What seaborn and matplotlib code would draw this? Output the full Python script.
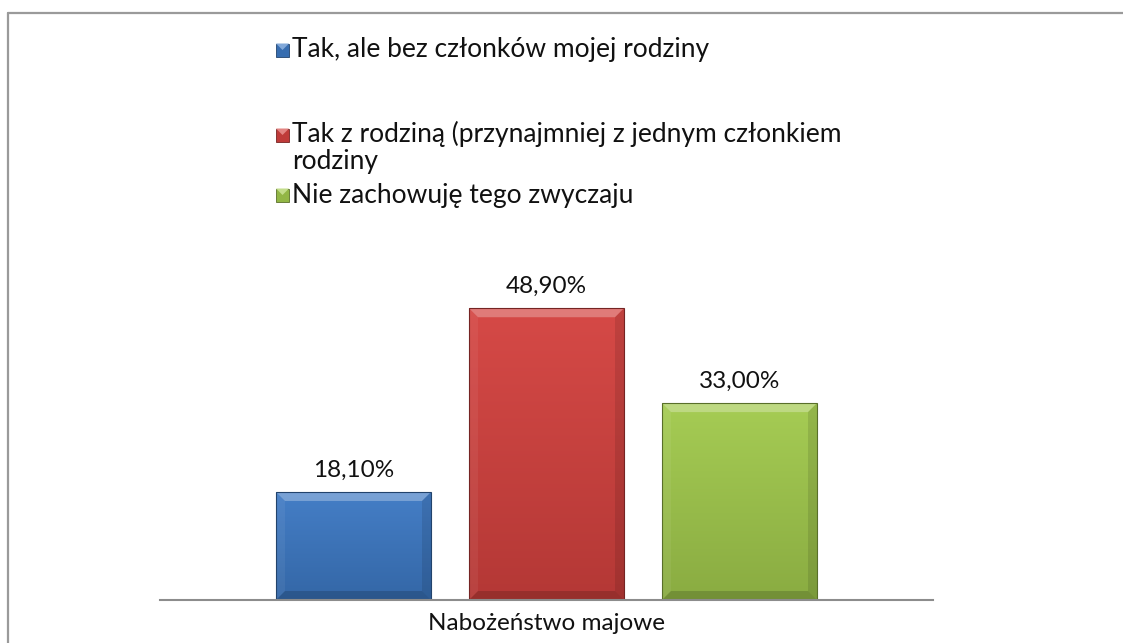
import numpy as np
import pandas as pd
import matplotlib
matplotlib.use("Agg")
import matplotlib.pyplot as plt
import seaborn as sns
from matplotlib.patches import Polygon, Rectangle
from matplotlib.lines import Line2D
from matplotlib.colors import to_rgb

# ---- data -------------------------------------------------------------
group = "Nabożeństwo majowe"
answers = [
    "Tak, ale bez członków mojej rodziny",
    "Tak z rodziną (przynajmniej z jednym członkiem rodziny",
    "Nie zachowuję tego zwyczaju",
]
legend_labels = [
    "Tak, ale bez członków mojej rodziny",
    "Tak z rodziną (przynajmniej z jednym członkiem\nrodziny",
    "Nie zachowuję tego zwyczaju",
]
shares = [18.1, 48.9, 33.0]
value_labels = ["18,10%", "48,90%", "33,00%"]
colors = ["#3D79C4", "#D4423F", "#A2CA4D"]

# ---- style ------------------------------------------------------------
sns.set_theme(style="white")
plt.rcParams["font.family"] = ["Lato", "DejaVu Sans"]

W, H = 1123, 643
fig = plt.figure(figsize=(W / 100, H / 100), dpi=100)
ax = fig.add_axes([160 / W, 1 - 600 / H, (933 - 160) / W, 358 / H])

df = pd.DataFrame({"grupa": [group] * 3, "odp": answers, "udzial": shares})
sns.barplot(data=df, x="grupa", y="udzial", hue="odp", hue_order=answers,
            palette=colors, width=0.8, gap=0.197, saturation=1,
            legend=False, ax=ax, edgecolor="none")

XL, YL = (-0.534, 0.534), (0, 60)
ax.set_xlim(*XL)
ax.set_ylim(*YL)
ax.set_autoscale_on(False)

for s in ["top", "left", "right"]:
    ax.spines[s].set_visible(False)
ax.spines["bottom"].set_color("#8C8C8C")
ax.spines["bottom"].set_linewidth(1.5)
ax.set_yticks([])
ax.set_xlabel("")
ax.set_ylabel("")
ax.tick_params(axis="x", length=0, pad=9, labelsize=17.5, colors="#111111")


def shade(c, f):
    r = np.array(to_rgb(c))
    if f >= 0:
        return tuple(r + (1 - r) * f)
    return tuple(r * (1 + f))


# pixel -> data sizes for the bevel edges
px_x = (XL[1] - XL[0]) / (933 - 160)
px_y = (YL[1] - YL[0]) / 358
bx, by = 9 * px_x, 9 * px_y

bars = [p for p in ax.patches if p.get_height() > 0]
bars.sort(key=lambda p: p.get_x())
for patch, col in zip(bars, colors):
    x, w, h = patch.get_x(), patch.get_width(), patch.get_height()
    # vertical gradient body
    grad = np.linspace(0, 1, 256)[:, None]
    top, bot = np.array(shade(col, 0.04)), np.array(shade(col, -0.15))
    img = bot + (top - bot) * grad
    im = ax.imshow(img[:, None, :].repeat(2, axis=1), extent=(x, x + w, 0, h),
                   origin="lower", aspect="auto", zorder=2.1,
                   interpolation="bilinear")
    im.set_clip_path(patch)
    # bevel edges
    bevel = [
        ([(x, h), (x + w, h), (x + w - bx, h - by), (x + bx, h - by)], "white", 0.28),
        ([(x, 0), (x, h), (x + bx, h - by), (x + bx, by)], "white", 0.06),
        ([(x + w, 0), (x + w, h), (x + w - bx, h - by), (x + w - bx, by)], "black", 0.10),
        ([(x, 0), (x + w, 0), (x + w - bx, by), (x + bx, by)], "black", 0.16),
    ]
    for pts, c, a in bevel:
        ax.add_patch(Polygon(pts, closed=True, facecolor=c, alpha=a,
                             edgecolor="none", zorder=2.2))
    ax.add_patch(Rectangle((x, 0), w, h, facecolor="none",
                           edgecolor=shade(col, -0.45), linewidth=0.8,
                           zorder=2.3))

# value labels above the bars, one container per answer (hue order)
for cont, lab in zip(ax.containers, value_labels):
    ax.bar_label(cont, labels=[lab], padding=8, fontsize=17.5, color="#111111")

# ---- legend ------------------------------------------------------------
def fx(px):
    return px / W


def fy(py):
    return 1 - py / H


legend_rows = [50, 147.5, 195]
for lab, col, yc in zip(legend_labels, colors, legend_rows):
    s = 13
    first = yc - 12.5 if "\n" in lab else yc
    x0, y0 = 276, first - s / 2
    fig.patches.append(Rectangle((fx(x0), fy(y0 + s)), s / W, s / H,
                                 transform=fig.transFigure,
                                 facecolor=shade(col, -0.1),
                                 edgecolor=shade(col, -0.45), linewidth=0.6))
    fig.patches.append(Polygon([(fx(x0), fy(y0)), (fx(x0 + s), fy(y0)),
                                (fx(x0 + s / 2), fy(y0 + s / 2))],
                               closed=True, transform=fig.transFigure,
                               facecolor=shade(col, 0.35), edgecolor="none"))
    fig.text(fx(292), fy(yc), lab, ha="left", va="center", fontsize=19,
             color="#111111", linespacing=1.08)

# ---- chart frame -------------------------------------------------------
fig.add_artist(Line2D([fx(8), fx(8)], [fy(13), 0], transform=fig.transFigure,
                      color="#9A9A9A", linewidth=1.6))
fig.add_artist(Line2D([fx(8), 1], [fy(13), fy(13)], transform=fig.transFigure,
                      color="#9A9A9A", linewidth=1.6))

fig.savefig("out.png", dpi=100, facecolor="white")
